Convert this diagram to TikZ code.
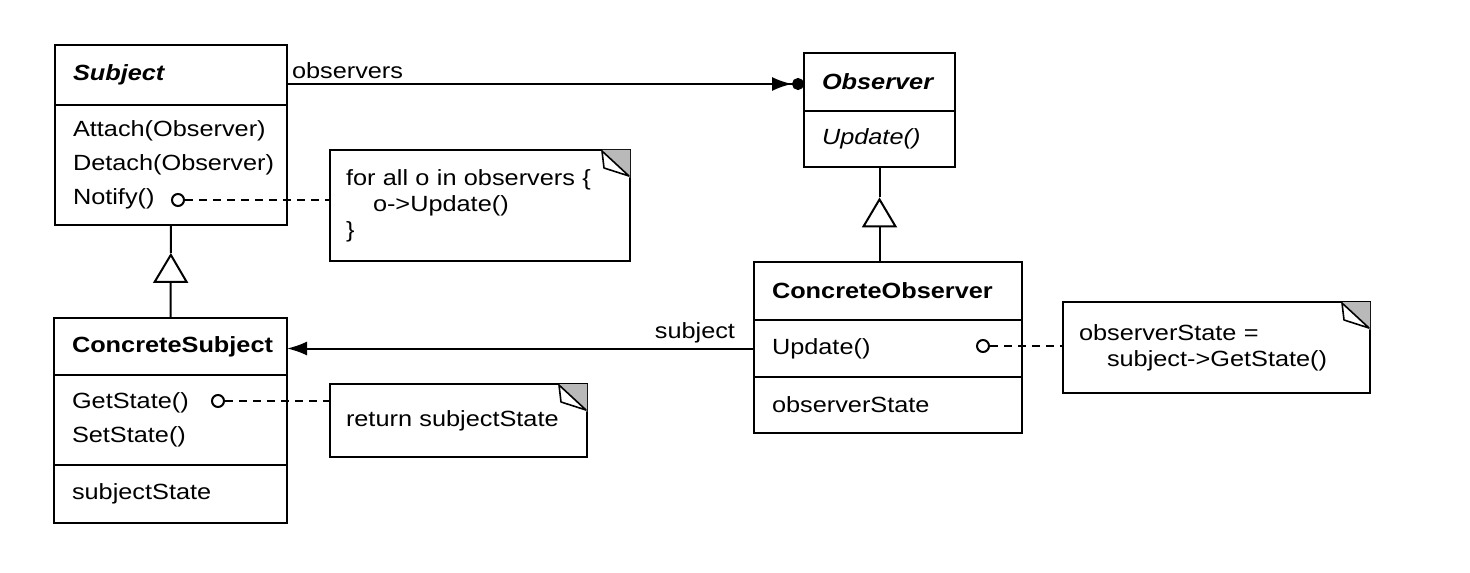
\documentclass[tikz,border=0pt]{standalone}
\usepackage{fontspec}
\setmainfont{Liberation Sans}[FakeStretch=1.15]
\usetikzlibrary{arrows.meta, positioning}
\newcommand{\dogear}[1]{%
  \fill[gray!55] ([xshift=-14pt]#1.north east) -- (#1.north east) -- ([yshift=-14pt]#1.north east) -- cycle;
  \draw[line width=0.8pt, fill=white, line join=round] ([xshift=-14pt,yshift=-0.5pt]#1.north east) -- ([xshift=-13pt,yshift=-9pt]#1.north east) -- ([xshift=-0.5pt,yshift=-13pt]#1.north east) -- cycle;}

\begin{document}
\begin{tikzpicture}[x=0.5pt, y=-0.5pt]
\tikzstyle{cls} = [rectangle, draw=black, line width=1.1pt, outer sep=0pt, inner xsep=9pt,
                  inner ysep=0pt, align=left, font=\fontsize{11}{17}\selectfont]
\tikzstyle{note} = [rectangle, draw=black, line width=1pt, outer sep=0pt, inner xsep=8pt,
                   inner ysep=0pt, align=left, anchor=north west, font=\fontsize{11}{13}\selectfont]
\tikzstyle{dot} = [circle, draw, line width=1pt, inner sep=0pt, minimum size=6pt, fill=white]
\tikzstyle{link} = [line width=0.9pt, dash pattern=on 4pt off 3pt]
\tikzstyle{edge} = [line width=1pt]
\tikzstyle{gen} = [-{Triangle[open, length=15pt, width=17.5pt, line width=1pt]}]
\tikzstyle{lbl} = [font=\fontsize{11}{13}\selectfont, inner sep=2pt]
\useasboundingbox (0,0) rectangle (1470,572);
% classes
\node (subj) [cls, text width=98pt, minimum height=30pt, anchor=north west] at (55,45) {\textbf{\textit{Subject}}};
\node (subjops) [cls, text width=98pt, minimum height=60pt, below=0pt of subj] {Attach(Observer)\\Detach(Observer)\\Notify()};
\node (obs) [cls, text width=57.5pt, minimum height=29pt, anchor=north west] at (804,53) {\textbf{\textit{Observer}}};
\node (obsops) [cls, text width=57.5pt, minimum height=28pt, below=0pt of obs] {\textit{Update()}};
\node (csubj) [cls, text width=98.5pt, minimum height=28.5pt, anchor=north west] at (54,318) {\textbf{ConcreteSubject}};
\node (csubjops) [cls, text width=98.5pt, minimum height=45pt, below=0pt of csubj] {GetState()\\SetState()};
\node (csubjattr) [cls, text width=98.5pt, minimum height=29pt, below=0pt of csubjops] {subjectState};
\node (cobs) [cls, text width=116pt, minimum height=29pt, anchor=north west] at (754,262) {\textbf{ConcreteObserver}};
\node (cobsops) [cls, text width=116pt, minimum height=28.5pt, below=0pt of cobs] {Update()};
\node (cobsattr) [cls, text width=116pt, minimum height=28pt, below=0pt of cobsops] {observerState};
% notes
\node (note1) [note, text width=134pt, minimum height=55.5pt] at (330,150) {for all o in observers \{\\\hspace*{13.5pt}o-{}>Update()\\\}};
\node (note2) [note, text width=112.5pt, minimum height=36.5pt] at (330,384) {return subjectState};
\node (note3) [note, text width=137.5pt, minimum height=45.5pt] at (1063,302) {observerState =\\\hspace*{14pt}subject-{}>GetState()};
\dogear{note1}
\dogear{note2}
\dogear{note3}
% implementation links
\node (dot1) [dot] at (178,200) {};
\node (dot2) [dot] at (218,401) {};
\node (dot3) [dot] at (983,346) {};
\draw [link] (dot1) -- (dot1 -| note1.west);
\draw [link] (dot2) -- (dot2 -| note2.west);
\draw [link] (dot3) -- (dot3 -| note3.west);
% associations
\draw [edge, -{Latex[length=10pt, width=7pt]Circle[length=6pt]}] ([yshift=-1pt]obs.west -| subj.east) -- node (lblobs) [lbl, pos=0, anchor=south west] {observers} ([yshift=-1pt]obs.west);
\draw [edge, -{Latex[length=10pt, width=7pt]}] (cobsops.west) -- node (lblsubj) [lbl, pos=0, anchor=south east, xshift=-7pt] {subject} (cobsops.west -| csubj.east);
% inheritance
\path (subjops.south) -- coordinate[pos=0.3] (apex1) (csubj.north);
\draw [edge] (subjops.south) -- (apex1);
\draw [edge, gen] (csubj.north) -- (apex1);
\path (obsops.south) -- coordinate[pos=0.32] (apex2) (obsops.south |- cobs.north);
\draw [edge] (obsops.south) -- (apex2);
\draw [edge, gen] (obsops.south |- cobs.north) -- (apex2);
\end{tikzpicture}
\end{document}
